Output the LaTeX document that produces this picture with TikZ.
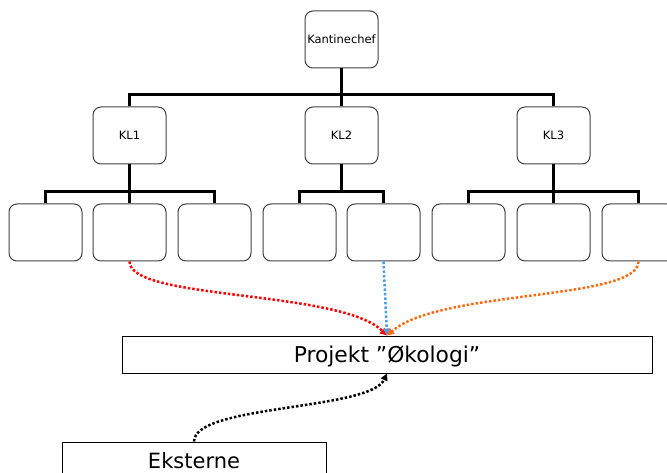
\documentclass[tikz,border=0pt]{standalone}
\usepackage{fontspec}
\setmainfont{DejaVu Sans}
\usetikzlibrary{arrows.meta,calc}
\definecolor{linkred}{HTML}{FF0000}
\definecolor{linkblue}{HTML}{4A9EEA}
\definecolor{linkorange}{HTML}{FF6A10}
\begin{document}
\begin{tikzpicture}[x=1pt,y=-1pt,
  orgbox/.style={draw=black!75, line width=1pt, rounded corners=8pt,
    minimum width=73pt, minimum height=57pt, inner sep=0pt,
    font=\fontsize{11.5}{13}\selectfont},
  bus/.style={line width=3.2pt},
  link/.style={line width=2.5pt, dash pattern=on 2.5pt off 2pt,
    -{Triangle[length=7pt,width=7pt]}},
  plainbox/.style={draw, line width=1pt, inner sep=0pt,
    text height=16pt, text depth=0pt}]
\useasboundingbox (0,0) rectangle (667,473);

% top of the hierarchy
\node[orgbox] (chef) at (341.5,39.5) {Kantinechef};

% kitchen managers
\node[orgbox] (kl1) at (129.5,135.5) {KL1};
\node[orgbox] (kl2) at (341.5,135.5) {KL2};
\node[orgbox] (kl3) at (553.5,135.5) {KL3};

% staff boxes
\foreach \i/\x in {1/45.5,2/129.5,3/214.5,4/299.5,5/383.5,6/468.5,7/553.5,8/638.5}
  \node[orgbox] (l\i) at (\x,232.5) {};

% project and external partners
\node[plainbox, minimum width=530pt, minimum height=37pt,
  font=\fontsize{21.8}{26}\selectfont] (proj) at (387,354.5) {Projekt ”Økologi”};
\node[plainbox, minimum width=264pt, minimum height=36pt,
  font=\fontsize{21}{25}\selectfont] (ext) at (194,460) {Eksterne};

% tree lines
\draw[bus] (chef.south) -- (kl2.north);
\draw[bus] (kl1.north) -- ++(0,-12) -| (kl3.north);

\draw[bus] (kl1.south) -- (l2.north);
\draw[bus] (l1.north) -- ++(0,-12) -| (l3.north);

\draw[bus] (kl2.south) -- ($(l4.north)!0.5!(l5.north)+(0,-12)$);
\draw[bus] (l4.north) -- ++(0,-12) -| (l5.north);

\draw[bus] (kl3.south) -- (l7.north);
\draw[bus] (l6.north) -- ++(0,-12) -| (l8.north);

% dotted links into the project
\draw[link, linkred] (l2.south) .. controls +(0,39) and +(-47,-46) .. (proj.north);
\draw[link, linkblue] (l5.south) -- (proj.north);
\draw[link, linkorange] (l8.south) .. controls +(0,39) and +(53,-46) .. (proj.north);
\draw[link, black] (ext.north) .. controls +(0,-37) and +(-17,37) .. (proj.south);
\end{tikzpicture}
\end{document}
